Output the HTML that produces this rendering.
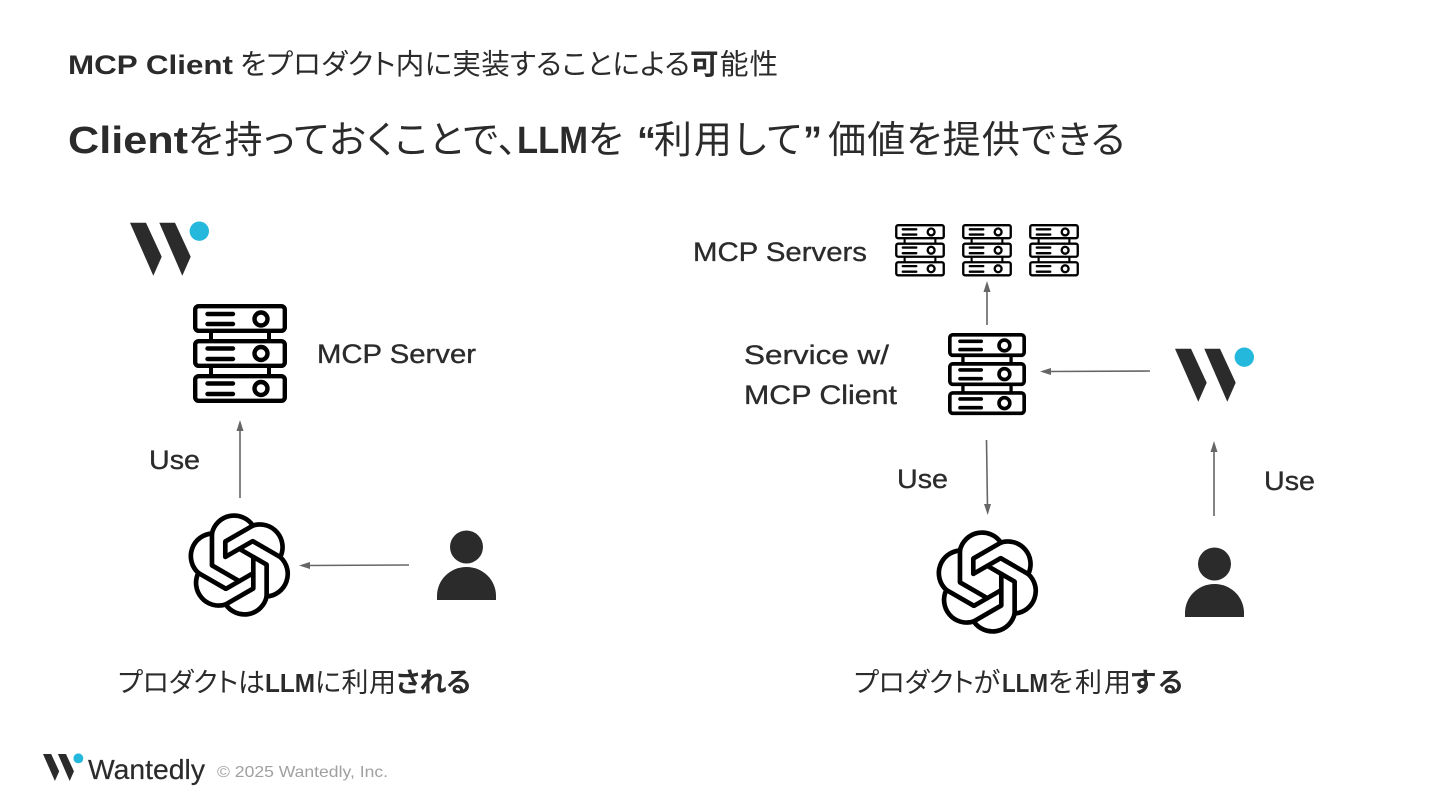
<!DOCTYPE html>
<html lang="ja">
<head>
<meta charset="utf-8">
<title>MCP Client</title>
<style>
html,body{margin:0;padding:0;background:#fff;width:1440px;height:810px;overflow:hidden}
svg{display:block}
text{font-family:"Liberation Sans","Noto Sans CJK JP",sans-serif;fill:#2b2b2b}
.j{font-family:"Noto Sans CJK JP","Liberation Sans",sans-serif;font-feature-settings:"palt" 1}
.b{font-weight:700}
.l{font-size:27px;stroke:#2b2b2b;stroke-width:.35px}
.t1{font-size:28.500px}
.t2{font-size:38px}
.s{font-size:27px}
.ar{stroke:#666;stroke-width:1.6;fill:none}
.ah{fill:#666}
</style>
</head>
<body>
<svg width="1440" height="810" viewBox="0 0 1440 810" xmlns="http://www.w3.org/2000/svg">
<defs>
<symbol id="srv" viewBox="0 0 94 100" overflow="visible">
  <g fill="none" stroke="#000" stroke-width="4.400" stroke-linecap="round">
    <rect x="2.200" y="2.200" width="89.600" height="24.600" rx="3.500"/>
    <rect x="2.200" y="37.200" width="89.600" height="24.600" rx="3.500"/>
    <rect x="2.200" y="72.200" width="89.600" height="24.600" rx="3.500"/>
    <path d="M18 28V36M76 28V36M18 63V71M76 63V71" stroke-width="4" stroke-linecap="butt"/>
    <path d="M14.500 10H40M14.500 20H40M14.500 44.500H40M14.500 55H40M14.500 79.500H40M14.500 90H40"/>
    <circle cx="68" cy="15" r="6.500"/>
    <circle cx="68" cy="49.500" r="6.500"/>
    <circle cx="68" cy="84.500" r="6.500"/>
  </g>
</symbol>
<symbol id="w" viewBox="0 0 80 54" overflow="visible">
  <path fill="#2b2b2b" d="M0 0H16L31.700 34L23.300 53L0 0ZM29.300 0H45L60.700 34L52.300 53L29.300 0Z"/>
  <circle cx="69.300" cy="8.500" r="9.700" fill="#24b8dc"/>
</symbol>
<g id="oaib">
  <path d="M-82 -95L-82 0M-82 -95A68 68 0 0 1 41 -118"/>
</g>
<g id="oaiu">
  <path d="M-42 24L-42 -70"/>
  <use href="#oaib"/>
</g>
<g id="oai" fill="none" stroke="#000" stroke-width="14" stroke-linejoin="round" stroke-linecap="round">
  <path d="M-42 -25L-42 -70"/>
  <use href="#oaib"/>
  <use href="#oaiu" transform="rotate(60)"/>
  <use href="#oaiu" transform="rotate(120)"/>
  <use href="#oaiu" transform="rotate(180)"/>
  <use href="#oaiu" transform="rotate(240)"/>
  <use href="#oaiu" transform="rotate(300)"/>
</g>
<symbol id="person" viewBox="0 0 60 70" overflow="visible">
  <circle cx="29.500" cy="16" r="16.500" fill="#2b2b2b"/>
  <path fill="#2b2b2b" d="M0 69V65C0 49 13 36 29.500 36S59 49 59 65V69Z"/>
</symbol>
</defs>

<!-- Titles -->
<text x="68" y="74" class="b" font-size="27" textLength="165" lengthAdjust="spacingAndGlyphs">MCP Client</text>
<text x="240" y="74" class="j t1" textLength="450">をプロダクト内に実装することによる</text>
<text x="690" y="74" class="j b t1" textLength="29">可</text>
<text x="720" y="74" class="j t1" textLength="58">能性</text>

<text x="68" y="153" class="b" font-size="38" textLength="120" lengthAdjust="spacingAndGlyphs">Client</text>
<text x="188" y="153" class="j t2" textLength="329">を持っておくことで、</text>
<text x="517" y="153" class="b" font-size="38" textLength="71" lengthAdjust="spacingAndGlyphs">LLM</text>
<text x="588" y="153" class="j t2" textLength="35">を</text>
<text x="637" y="153" class="b" font-size="38">“</text>
<text x="654" y="153" class="j t2" textLength="148">利用して</text>
<text x="803" y="153" class="b" font-size="38">”</text>
<text x="828" y="153" class="j t2" textLength="297">価値を提供できる</text>

<!-- Left diagram -->
<use href="#w" x="130" y="222.700" width="80" height="54"/>
<use href="#srv" x="193" y="304" width="94" height="100"/>
<text x="317" y="363" class="l" textLength="159" lengthAdjust="spacingAndGlyphs">MCP Server</text>
<text x="149" y="469" class="l" textLength="51" lengthAdjust="spacingAndGlyphs">Use</text>
<path class="ar" d="M240 498V427"/><path class="ah" d="M240 420L236.500 431H243.500Z"/>
<g transform="translate(239.300 565) scale(.3333)"><use href="#oai"/></g>
<path class="ar" d="M409 565L306 565.500"/><path class="ah" d="M299 565.500L310 562V569Z"/>
<use href="#person" x="437" y="531" width="60" height="70"/>
<text x="118" y="692" class="j s" textLength="147">プロダクトは</text>
<text x="265" y="692" class="b" font-size="26" textLength="50" lengthAdjust="spacingAndGlyphs">LLM</text>
<text x="315" y="692" class="j s" textLength="81">に利用</text>
<text x="396" y="692" class="j b s" textLength="75">される</text>

<!-- Right diagram -->
<text x="693" y="261" class="l" textLength="174" lengthAdjust="spacingAndGlyphs">MCP Servers</text>
<use href="#srv" x="895" y="224" width="50" height="53"/>
<use href="#srv" x="962" y="224" width="50" height="53"/>
<use href="#srv" x="1029" y="224" width="50" height="53"/>
<path class="ar" d="M987 325V288"/><path class="ah" d="M987 281L983.500 292H990.500Z"/>
<text x="744" y="364" class="l" textLength="145" lengthAdjust="spacingAndGlyphs">Service w/</text>
<text x="744" y="404" class="l" textLength="153" lengthAdjust="spacingAndGlyphs">MCP Client</text>
<use href="#srv" x="948" y="333" width="78" height="83"/>
<path class="ar" d="M1150 371L1047 371.500"/><path class="ah" d="M1040 371.500L1051 368V375Z"/>
<use href="#w" x="1175" y="348.700" width="80" height="54"/>
<path class="ar" d="M986.500 440L987.500 508"/><path class="ah" d="M987.700 515L984 504H991Z"/>
<text x="897" y="488" class="l" textLength="51" lengthAdjust="spacingAndGlyphs">Use</text>
<path class="ar" d="M1214 516V448"/><path class="ah" d="M1214 441L1210.500 452H1217.500Z"/>
<text x="1264" y="490" class="l" textLength="51" lengthAdjust="spacingAndGlyphs">Use</text>
<g transform="translate(987.300 582) scale(.3333)"><use href="#oai"/></g>
<use href="#person" x="1185" y="548" width="60" height="70"/>
<text x="854" y="692" class="j s" textLength="146">プロダクトが</text>
<text x="1002" y="692" class="b" font-size="26" textLength="46" lengthAdjust="spacingAndGlyphs">LLM</text>
<text x="1048" y="692" class="j s" textLength="83">を利用</text>
<text x="1131" y="692" class="j b s" textLength="52">する</text>

<!-- Footer -->
<g transform="translate(43 754) scale(.51)"><use href="#w" width="80" height="54"/></g>
<text x="88" y="779" font-size="28" style="stroke:#2b2b2b;stroke-width:.2px" textLength="117" lengthAdjust="spacingAndGlyphs">Wantedly</text>
<text x="217" y="777" font-size="16" style="fill:#a0a0a0" textLength="171" lengthAdjust="spacingAndGlyphs">© 2025 Wantedly, Inc.</text>
</svg>
</body>
</html>
